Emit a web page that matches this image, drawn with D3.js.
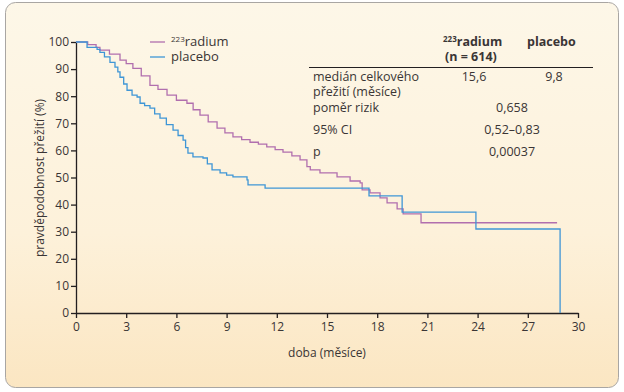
<!DOCTYPE html>
<html>
<head>
<meta charset="utf-8">
<script src="https://cdn.jsdelivr.net/npm/d3@7"></script>
<style>
body { margin: 0; background: #fff; }
text { font-family: "Open Sans", "Noto Sans", sans-serif; fill: #3a3535; }
</style>
</head>
<body>
<div id="graf"></div>
<script>
// hodnoty
var radiumMes = [0, 0.7, 1.2, 1.43, 2.0, 2.63, 3.0, 3.4, 3.9, 4.42, 4.9, 5.44, 6.0, 6.63, 7.0, 7.41, 7.9, 8.43, 8.9, 9.38, 9.9, 10.4, 10.9, 11.4, 11.9, 12.37, 12.9, 13.39, 13.8, 14.0, 14.58, 15.6, 16.38, 16.98, 17.1, 17.57, 18.17, 18.59, 19.19, 19.55, 20.62, 28.75];
var radiumPrez = [100, 99, 98, 97, 95.5, 93.3, 92, 90.3, 87.5, 84, 82.5, 80.4, 78.5, 77.4, 75, 73, 70.5, 68.2, 66.5, 65, 64, 63, 62.3, 61.3, 60.3, 59.4, 58, 56.5, 54, 52.8, 51.7, 50.2, 48.7, 48, 45.4, 44.3, 42.5, 40.6, 38.4, 36.6, 33.3, 33.3];
var placeboMes = [0, 0.66, 1.26, 1.43, 1.7, 2.03, 2.33, 2.5, 2.63, 2.85, 3.05, 3.35, 3.65, 3.83, 4.1, 4.42, 4.7, 5.02, 5.4, 5.8, 6.1, 6.4, 6.55, 6.69, 6.99, 7.59, 7.85, 8.13, 8.61, 9.0, 9.38, 10.22, 10.28, 11.3, 17.51, 19.49, 23.9, 28.93];
var placeboPrez = [100, 98, 97.3, 96.2, 94.5, 92.5, 90.7, 89, 87, 84.5, 82.2, 80.4, 79.7, 77.4, 76.5, 75.6, 73.5, 71.9, 69.5, 67.5, 65.5, 63.8, 61, 59, 57.6, 57.2, 55, 52.8, 51.7, 50.9, 50.2, 49.1, 47.3, 46.1, 43.2, 37.2, 31.0, 0];
var xTicky = [0, 3, 6, 9, 12, 15, 18, 21, 24, 27, 30];
var yTicky = [0, 10, 20, 30, 40, 50, 60, 70, 80, 90, 100];
var radky = ['medián celkového|přežití (měsíce)', 'poměr rizik', '95% CI', 'p'];
var hodnotyRadium = ['15,6', '', '', ''];
var hodnotyPlacebo = ['9,8', '', '', ''];
var hodnotySpolecne = ['', '0,658', '0,52–0,83', '0,00037'];

var fialova = "#b16fae";
var modra = "#3f96d6";

var svg = d3.select("#graf")
	.append('svg')
	.attr("width", 624)
	.attr("height", 392);

var defs = svg.append("defs");
var grad = defs.append("linearGradient").attr("id", "pozadi")
	.attr("x1", 0).attr("y1", 0).attr("x2", 0).attr("y2", 1);
grad.append("stop").attr("offset", "0%").attr("stop-color", "#fdf7e8");
grad.append("stop").attr("offset", "60%").attr("stop-color", "#fdf1da");
grad.append("stop").attr("offset", "100%").attr("stop-color", "#fbe6c2");

svg.append("rect")
	.attr("x", 5.5).attr("y", 2.5)
	.attr("width", 613).attr("height", 385)
	.attr("rx", 10)
	.attr("fill", "url(#pozadi)")
	.attr("stroke", "#a9a6a3")
	.attr("stroke-width", 1);

var x = d3.scaleLinear().domain([0, 30]).range([76, 578]);
var y = d3.scaleLinear().domain([0, 100]).range([313, 42]);

var osaX = svg.append("g")
	.attr("transform", "translate(0,313)")
	.call(d3.axisBottom(x).tickValues(xTicky).tickSize(5).tickPadding(4).tickSizeOuter(0));
var osaY = svg.append("g")
	.attr("transform", "translate(76,0)")
	.call(d3.axisLeft(y).tickValues(yTicky).tickSize(5).tickPadding(2).tickSizeOuter(0));

[osaX, osaY].forEach(function (o) {
	o.select(".domain").attr("stroke", "#231f20").attr("stroke-width", 1.3);
	o.selectAll(".tick line").attr("stroke", "#231f20").attr("stroke-width", 1.3);
	o.selectAll(".tick text").attr("font-size", "12px").attr("fill", "#3a3535")
		.style("font-family", '"Open Sans", sans-serif');
});

svg.append("text")
	.attr("x", 327).attr("y", 357)
	.attr("text-anchor", "middle")
	.attr("font-size", "12px")
	.text("doba (měsíce)");

svg.append("text")
	.attr("transform", "translate(44,178) rotate(-90)")
	.attr("text-anchor", "middle")
	.attr("font-size", "12px")
	.text("pravděpodobnost přežití (%)");

var cara = d3.line()
	.x(function (d) { return x(d[0]); })
	.y(function (d) { return y(d[1]); })
	.curve(d3.curveStepAfter);

svg.append("path")
	.datum(d3.zip(radiumMes, radiumPrez))
	.attr("d", cara)
	.attr("fill", "none")
	.attr("stroke", fialova)
	.attr("stroke-width", 1.3);

svg.append("path")
	.datum(d3.zip(placeboMes, placeboPrez))
	.attr("d", cara)
	.attr("fill", "none")
	.attr("stroke", modra)
	.attr("stroke-width", 1.3);

// legenda
svg.append("line").attr("x1", 150).attr("x2", 165).attr("y1", 42).attr("y2", 42)
	.attr("stroke", fialova).attr("stroke-width", 1.3);
svg.append("line").attr("x1", 150).attr("x2", 165).attr("y1", 57).attr("y2", 57)
	.attr("stroke", modra).attr("stroke-width", 1.3);
var leg1 = svg.append("text").attr("x", 171).attr("y", 46).attr("font-size", "13px");
leg1.append("tspan").attr("font-size", "8px").attr("dy", -4).text("223");
leg1.append("tspan").attr("dy", 4).text("radium");
svg.append("text").attr("x", 171).attr("y", 61).attr("font-size", "13px").text("placebo");

// tabulka
var hlava = svg.append("text").attr("x", 443).attr("y", 46)
	.attr("font-size", "12.5px").attr("font-weight", "bold");
hlava.append("tspan").attr("font-size", "8px").attr("dy", -4).text("223");
hlava.append("tspan").attr("dy", 4).text("radium");
svg.append("text").attr("x", 445).attr("y", 61)
	.attr("font-size", "12.5px").attr("font-weight", "bold").text("(n = 614)");
svg.append("text").attr("x", 527).attr("y", 46)
	.attr("font-size", "12.5px").attr("font-weight", "bold").text("placebo");
svg.append("line").attr("x1", 309).attr("x2", 593).attr("y1", 67.5).attr("y2", 67.5)
	.attr("stroke", "#231f20").attr("stroke-width", 1.2);

var radkyY = [81, 112, 134, 156];
for (var i = 0; i < radky.length; i++) {
	var casti = radky[i].split("|");
	for (var j = 0; j < casti.length; j++) {
		svg.append("text").attr("x", 313).attr("y", radkyY[i] + j * 15)
			.attr("font-size", "12.5px").text(casti[j]);
	}
	svg.append("text").attr("x", 474).attr("y", radkyY[i]).attr("text-anchor", "middle")
		.attr("font-size", "12.5px").text(hodnotyRadium[i]);
	svg.append("text").attr("x", 554).attr("y", radkyY[i]).attr("text-anchor", "middle")
		.attr("font-size", "12.5px").text(hodnotyPlacebo[i]);
	svg.append("text").attr("x", 512).attr("y", radkyY[i]).attr("text-anchor", "middle")
		.attr("font-size", "12.5px").text(hodnotySpolecne[i]);
}
</script>
</body>
</html>
